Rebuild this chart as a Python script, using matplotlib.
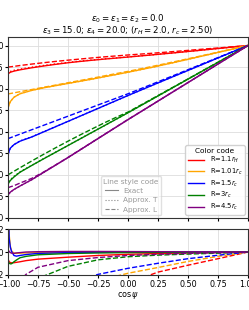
import matplotlib
matplotlib.use("Agg")
import matplotlib.pyplot as plt
from matplotlib.lines import Line2D

# cos(psi) sampling of the curves
x = [-1.0, -0.995, -0.98, -0.95, -0.9, -0.8, -0.7, -0.6, -0.5, -0.4,
     -0.3, -0.2, -0.1, 0.0, 0.2, 0.4, 0.6, 0.8, 1.0]

# main panel: exact (solid), approx T (dotted), approx L (dashed)
exact = {
    "red":    [0.66, 0.676, 0.69, 0.703, 0.718, 0.742, 0.763, 0.782, 0.80, 0.815,
               0.829, 0.842, 0.854, 0.866, 0.891, 0.917, 0.944, 0.972, 1.0],
    "orange": [0.256, 0.30, 0.35, 0.40, 0.44, 0.48, 0.51, 0.535, 0.56, 0.585,
               0.61, 0.637, 0.663, 0.69, 0.747, 0.808, 0.872, 0.936, 1.0],
    "blue":   [-0.30, -0.24, -0.19, -0.15, -0.11, -0.06, 0.0, 0.06, 0.12, 0.18,
               0.24, 0.30, 0.36, 0.42, 0.537, 0.653, 0.769, 0.885, 1.0],
    "green":  [-0.63, -0.595, -0.565, -0.525, -0.47, -0.39, -0.312, -0.236, -0.16, -0.084,
               -0.008, 0.068, 0.144, 0.22, 0.376, 0.532, 0.688, 0.844, 1.0],
    "purple": [-0.755, -0.725, -0.70, -0.67, -0.63, -0.555, -0.47, -0.385, -0.30, -0.212,
               -0.124, -0.036, 0.052, 0.14, 0.312, 0.484, 0.656, 0.828, 1.0],
}
approx_t = {
    "red":    [0.666, 0.685, 0.699, 0.712, 0.726, 0.749, 0.769, 0.787, 0.804, 0.819,
               0.832, 0.845, 0.856, 0.868, 0.892, 0.918, 0.945, 0.972, 1.0],
    "orange": [0.25, 0.296, 0.35, 0.401, 0.441, 0.481, 0.511, 0.536, 0.561, 0.585,
               0.61, 0.637, 0.663, 0.69, 0.747, 0.808, 0.872, 0.936, 1.0],
    "blue":   [-0.33, -0.245, -0.192, -0.147, -0.107, -0.058, 0.001, 0.061, 0.12, 0.18,
               0.24, 0.30, 0.36, 0.42, 0.537, 0.653, 0.769, 0.885, 1.0],
    "green":  [-0.622, -0.585, -0.555, -0.518, -0.466, -0.388, -0.31, -0.235, -0.159, -0.083,
               -0.007, 0.068, 0.144, 0.22, 0.376, 0.532, 0.688, 0.844, 1.0],
    "purple": [-0.757, -0.726, -0.70, -0.67, -0.63, -0.555, -0.47, -0.385, -0.30, -0.212,
               -0.124, -0.036, 0.052, 0.14, 0.312, 0.484, 0.656, 0.828, 1.0],
}
approx_l = {
    "red":    [0.75, 0.751, 0.753, 0.758, 0.768, 0.785, 0.801, 0.816, 0.83, 0.843,
               0.856, 0.868, 0.879, 0.89, 0.91, 0.932, 0.955, 0.977, 1.0],
    "orange": [0.4375, 0.439, 0.443, 0.451, 0.464, 0.49, 0.516, 0.542, 0.568, 0.594,
               0.62, 0.647, 0.674, 0.70, 0.757, 0.816, 0.877, 0.938, 1.0],
    "blue":   [-0.08, -0.077, -0.07, -0.054, -0.028, 0.024, 0.076, 0.128, 0.18, 0.232,
               0.284, 0.336, 0.388, 0.44, 0.551, 0.663, 0.776, 0.888, 1.0],
    "green":  [-0.50, -0.496, -0.484, -0.459, -0.418, -0.338, -0.26, -0.184, -0.11, -0.038,
               0.032, 0.101, 0.166, 0.228, 0.381, 0.535, 0.69, 0.845, 1.0],
    "purple": [-0.65, -0.647, -0.639, -0.626, -0.596, -0.54, -0.465, -0.383, -0.298, -0.21,
               -0.122, -0.034, 0.054, 0.142, 0.313, 0.485, 0.657, 0.829, 1.0],
}

# lower panel: differences
xd = [-1.0, -0.99, -0.98, -0.97, -0.95, -0.93, -0.9, -0.85, -0.75, -0.5, -0.25,
      0.0, 0.25, 0.5, 0.75, 1.0]
diff_t = {
    "red":    [-0.006, -0.0085, -0.0092, -0.0094, -0.0093, -0.009, -0.0085, -0.0075, -0.0062,
               -0.0045, -0.003, -0.002, -0.0013, -0.0008, -0.0004, 0.0],
    "orange": [0.06, 0.015, 0.005, 0.001, -0.001, -0.0012, -0.001, -0.0008, -0.0005,
               -0.0003, -0.0002, -0.0001, 0.0, 0.0, 0.0, 0.0],
    "blue":   [0.05, 0.012, 0.004, 0.0005, -0.003, -0.0036, -0.003, -0.0022, -0.0012,
               -0.0005, -0.0003, -0.0002, -0.0001, 0.0, 0.0, 0.0],
    "green":  [-0.0075, -0.0098, -0.0103, -0.0102, -0.0085, -0.007, -0.005, -0.0038, -0.0024,
               -0.0013, -0.0008, -0.0005, -0.0003, -0.0002, -0.0001, 0.0],
    "purple": [0.002, 0.0005, -0.0005, -0.001, -0.0012, -0.0008, -0.0005, 0.0, 0.0003,
               0.0005, 0.0005, 0.0004, 0.0003, 0.0002, 0.0001, 0.0],
}
diff_l = {
    "red":    [-0.2, -0.19, -0.18, -0.17, -0.16, -0.15, -0.14, -0.12, -0.1,
               -0.07, -0.042, -0.027, -0.0175, -0.0115, -0.0058, 0.0],
    "orange": [-0.15, -0.14, -0.13, -0.12, -0.11, -0.1, -0.09, -0.08, -0.065,
               -0.038, -0.025, -0.0185, -0.0135, -0.0082, -0.0038, 0.0],
    "blue":   [-0.09, -0.085, -0.08, -0.075, -0.07, -0.065, -0.06, -0.05, -0.04,
               -0.028, -0.0195, -0.0142, -0.0098, -0.0058, -0.0028, 0.0],
    "green":  [-0.08, -0.075, -0.07, -0.065, -0.058, -0.05, -0.043, -0.035, -0.023,
               -0.0125, -0.0068, -0.0041, -0.0027, -0.0018, -0.001, 0.0],
    "purple": [-0.06, -0.055, -0.05, -0.045, -0.038, -0.03, -0.025, -0.0195, -0.0133,
               -0.0075, -0.0048, -0.003, -0.002, -0.0012, -0.0006, 0.0],
}

colors = ["red", "orange", "blue", "green", "purple"]
labels = [r"R=1.1$r_H$", r"R=1.01$r_c$", r"R=1.5$r_c$", r"R=3$r_c$", r"R=4.5$r_c$"]
xticks = [-1.0, -0.75, -0.5, -0.25, 0.0, 0.25, 0.5, 0.75, 1.0]

plt.rcParams["font.size"] = 5.8
plt.rcParams["axes.linewidth"] = 0.8
plt.rcParams["xtick.major.size"] = 2.3
plt.rcParams["ytick.major.size"] = 2.3
plt.rcParams["xtick.major.pad"] = 1.5
plt.rcParams["ytick.major.pad"] = 0.8

fig = plt.figure(figsize=(2.49, 3.10), dpi=100)
ax = fig.add_axes([0.032, 0.297, 0.964, 0.584])
ax2 = fig.add_axes([0.032, 0.113, 0.964, 0.148])

lw = 1.0
for c in colors:
    ax.plot(x, exact[c], color=c, lw=lw, ls="-")
    ax.plot(x, approx_t[c], color=c, lw=lw, ls=":")
    ax.plot(x, approx_l[c], color=c, lw=lw, ls="--")
    ax2.plot(xd, diff_t[c], color=c, lw=lw, ls="-")
    ax2.plot(xd, diff_l[c], color=c, lw=lw, ls="--")

ax.set_xlim(-1, 1)
ax.set_ylim(-1.0, 1.1)
ax.set_xticks(xticks)
ax.set_xticklabels([])
ax.set_yticks([-1.0, -0.75, -0.5, -0.25, 0.0, 0.25, 0.5, 0.75, 1.0])
ax.grid(True, color="#dddddd", lw=0.6)
ax.set_axisbelow(True)
ax.set_title("$\\epsilon_0=\\epsilon_1=\\epsilon_2=0.0$\n"
             "$\\epsilon_3=15.0$; $\\epsilon_4=20.0$; ($r_H=2.0$, $r_c=2.50$)",
             fontsize=6.2, pad=1.2, linespacing=0.95)

ax2.set_xlim(-1, 1)
ax2.set_ylim(-0.02, 0.02)
ax2.set_xticks(xticks)
ax2.set_yticks([-0.02, 0.0, 0.02])
ax2.grid(True, color="#dddddd", lw=0.6)
ax2.set_axisbelow(True)
ax2.set_xlabel(r"$\cos\psi$", labelpad=0.5)

for a in (ax, ax2):
    for s in a.spines.values():
        s.set_color("#333333")

color_handles = [Line2D([], [], color=c, lw=lw) for c in colors]
leg1 = ax.legend(color_handles, labels, title="Color code", loc="lower right",
                 fontsize=4.9, title_fontsize=5.3, handlelength=2.4,
                 borderaxespad=0.5, borderpad=0.35, labelspacing=0.22,
                 framealpha=0.9)
ax.add_artist(leg1)

gray = "#888888"
style_handles = [Line2D([], [], color=gray, lw=0.8, ls=s) for s in ["-", ":", "--"]]
leg2 = ax.legend(style_handles, ["Exact", "Approx. T", "Approx. L"],
                 title="Line style code", loc="lower left",
                 bbox_to_anchor=(0.375, 0.0), fontsize=5.2, title_fontsize=5.3,
                 handlelength=1.8, borderpad=0.35, borderaxespad=0.4,
                 labelspacing=0.45, framealpha=0.6)
for t in leg2.get_texts():
    t.set_color("#999999")
leg2.get_title().set_color("#999999")

fig.savefig("out.png", dpi=100)
